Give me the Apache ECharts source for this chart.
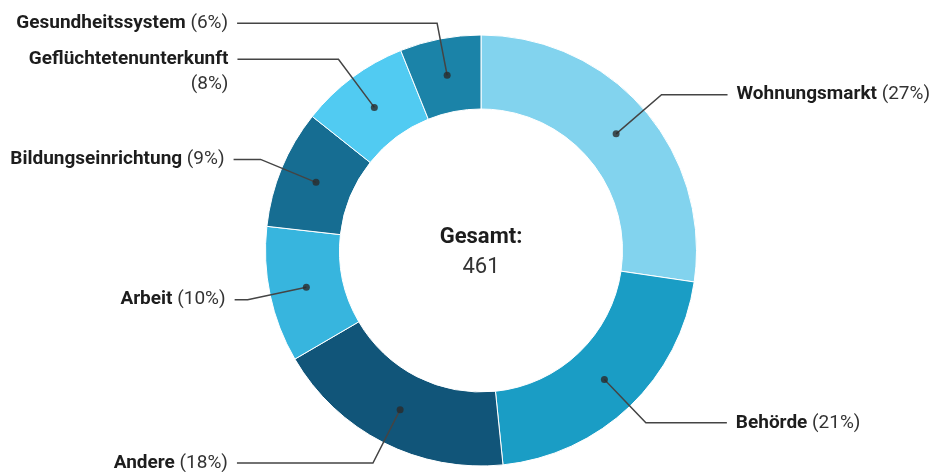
<!DOCTYPE html>
<html>
<head>
<meta charset="utf-8">
<script src="https://cdn.jsdelivr.net/npm/echarts@6/dist/echarts.min.js"></script>
<style>html,body{margin:0;padding:0;background:#fff}#c{width:931px;height:472px}</style>
</head>
<body>
<div id="c"></div>
<script>
const categories = ['Wohnungsmarkt','Behörde','Andere','Arbeit','Bildungseinrichtung','Geflüchtetenunterkunft','Gesundheitssystem'];
const values = [126, 97, 84, 47, 41, 38, 28];
const colors = ['#82d3ee','#1a9dc5','#115579','#37b5de','#166d92','#51cbf2','#1b83a8'];
const totalLabel = 'Gesamt:';

const leaderLen = [60, 60, 60, 60, 60, 60, 53];
const leaderLen2 = [66, 81, 136, 13, 27, 101, 200];

const total = values.reduce((a, b) => a + b, 0);
const CX = 481, CY = 250.5, R_IN = 141.5, R_OUT = 215.5, R_MID = (R_IN + R_OUT) / 2;

const ringData = categories.map((n, i) => ({ name: n, value: values[i], itemStyle: { color: colors[i] } }));
const labelData = categories.map((n, i) => {
  const pct = Math.round(values[i] / total * 100);
  const txt = i === 5
    ? '{e|\u00a0}\n{b|' + n + '}\n{n|(' + pct + '%)}'
    : '{b|' + n + '} {n|(' + pct + '%)}';
  return {
    name: n, value: values[i],
    label: { formatter: txt },
    labelLine: { length: leaderLen[i], length2: leaderLen2[i] }
  };
});
let cum = 0;
const dotData = values.map(v => { const m = cum + v / 2; cum += v; return [1, m]; });

const chart = echarts.init(document.getElementById('c'));
chart.setOption({
  animation: false,
  polar: { center: [CX, CY], radius: R_MID },
  angleAxis: { type: 'value', min: 0, max: total, startAngle: 90, clockwise: true, show: false },
  radiusAxis: { type: 'value', min: 0, max: 1, show: false },
  series: [
    {
      type: 'pie', center: [CX, CY], radius: [R_IN, R_OUT], silent: true, z: 1,
      label: { show: false }, labelLine: { show: false },
      itemStyle: { borderColor: '#ffffff', borderWidth: 1 },
      data: ringData
    },
    {
      type: 'pie', center: [CX, CY], radius: [0, R_MID], silent: true, z: 3,
      avoidLabelOverlap: false,
      labelLayout: { hideOverlap: false, moveOverlap: null },
      itemStyle: { color: 'rgba(0,0,0,0)', borderWidth: 0 },
      label: {
        show: true, position: 'outside', alignTo: 'none', distanceToLabelLine: 9,
        bleedMargin: 0, overflow: 'none',
        fontFamily: 'Roboto', fontSize: 19, color: '#1d1d1d',
        rich: {
          b: { fontFamily: 'Roboto', fontSize: 19, fontWeight: 'bold', color: '#1d1d1d', lineHeight: 25 },
          n: { fontFamily: 'Roboto', fontSize: 19, color: '#333333', lineHeight: 25 },
          e: { fontFamily: 'Roboto', fontSize: 19, lineHeight: 25 }
        }
      },
      labelLine: { show: true, smooth: false, lineStyle: { color: '#444444', width: 1.5 } },
      data: labelData
    },
    {
      type: 'scatter', coordinateSystem: 'polar', silent: true, z: 4,
      symbol: 'circle', symbolSize: 7,
      itemStyle: { color: '#2b2b2b' },
      data: dotData
    }
  ],
  graphic: [
    { type: 'text', x: CX, y: CY - 13, style: { text: totalLabel, font: 'bold 22px Roboto', fill: '#1d1d1d', textAlign: 'center', textVerticalAlign: 'middle' } },
    { type: 'text', x: CX, y: CY + 17, style: { text: String(total), font: '22px Roboto', fill: '#333333', textAlign: 'center', textVerticalAlign: 'middle' } }
  ]
});
</script>
</body>
</html>
